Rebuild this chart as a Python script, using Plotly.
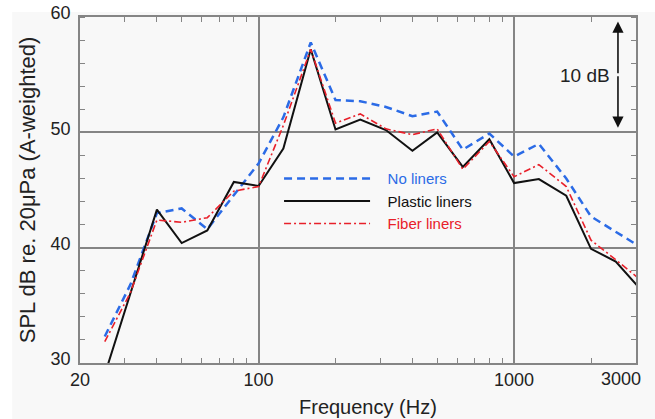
import math
import plotly.graph_objects as go

# 1/3-octave band centre frequencies (Hz)
freqs = [25, 31.5, 40, 50, 63, 80, 100, 125, 160, 200, 250, 315, 400, 500,
         630, 800, 1000, 1250, 1600, 2000, 2500, 3150]

no_liners = [32.3, 36.8, 43.0, 43.4, 41.6, 44.6, 47.3, 51.3, 57.8, 52.8, 52.7,
             52.2, 51.4, 51.8, 48.5, 49.9, 47.9, 49.0, 46.0, 42.7, 41.4, 40.0]
plastic_liners = [29.0, 36.1, 43.3, 40.4, 41.5, 45.7, 45.35, 48.6, 57.2, 50.25,
                  51.1, 50.2, 48.4, 50.0, 47.0, 49.4, 45.6, 45.95, 44.5, 39.9,
                  38.8, 36.3]
fiber_liners = [31.85, 36.1, 42.4, 42.2, 42.6, 44.9, 45.3, 50.6, 57.2, 50.8,
                51.6, 50.3, 49.8, 50.3, 46.8, 49.2, 46.15, 47.2, 45.3, 40.65,
                38.95, 37.15]

x_ticks = [20, 100, 1000]
x_minor = [30, 40, 50, 60, 70, 80, 90, 200, 300, 400, 500, 600, 700, 800, 900, 2000]
y_ticks = [30, 40, 50, 60]

GRID = "#858585"
BG = "#f8f8f8"
FONT = "Liberation Sans, Arial, sans-serif"
SP = "\u00a0\u00a0\u00a0"

fig = go.Figure()
fig.add_trace(go.Scatter(
    x=freqs, y=no_liners, mode="lines",
    name=SP + "<span style='color:#2b6be6'>No liners</span>",
    line=dict(color="#2b6be6", width=2.5, dash="8px,5px")))
fig.add_trace(go.Scatter(
    x=freqs, y=plastic_liners, mode="lines",
    name=SP + "<span style='color:#111111'>Plastic liners</span>",
    line=dict(color="#111111", width=2)))
fig.add_trace(go.Scatter(
    x=freqs, y=fiber_liners, mode="lines",
    name=SP + "<span style='color:#e8202a'>Fiber liners</span>",
    line=dict(color="#e8202a", width=1.6, dash="7px,3px,2px,3px")))

fig.update_layout(
    width=655, height=419,
    margin=dict(l=80, r=19, t=17, b=56, autoexpand=False),
    paper_bgcolor="#ffffff", plot_bgcolor=BG,
    font=dict(family=FONT, color="#222222"),
    showlegend=True,
    legend=dict(x=0.358, y=0.58, xanchor="left", yanchor="top",
                bgcolor="rgba(0,0,0,0)", itemwidth=86,
                font=dict(size=15, family=FONT), tracegroupgap=0),
)

# light-grey picture background with thin white border at top/left
fig.add_shape(type="rect", xref="paper", yref="paper",
              x0=-0.122, x1=1.05, y0=-0.2, y1=1.0145,
              fillcolor=BG, line=dict(width=0), layer="below")

fig.update_xaxes(
    type="log", range=[math.log10(20), math.log10(3000)],
    tickvals=x_ticks, ticktext=[str(v) for v in x_ticks],
    tickfont=dict(size=18), ticks="", automargin=False,
    showgrid=True, gridcolor=GRID, gridwidth=1.5,
    showline=True, linecolor=GRID, linewidth=1.5, mirror="ticks",
    minor=dict(tickvals=x_minor, ticks="inside", ticklen=5,
               tickcolor=GRID, tickwidth=1.2, showgrid=False),
    zeroline=False,
)
fig.update_yaxes(
    range=[30, 60], tickvals=y_ticks, automargin=False,
    tickfont=dict(size=18), ticks="", ticklabelstandoff=4,
    ticklabelshift=-4,
    showgrid=True, gridcolor=GRID, gridwidth=1.5,
    showline=True, linecolor=GRID, linewidth=1.5, mirror="ticks",
    minor=dict(dtick=2, ticks="inside", ticklen=5,
               tickcolor=GRID, tickwidth=1.2, showgrid=False),
    zeroline=False,
    title=dict(text="SPL dB re. 20\u03bcPa (A-weighted)", font=dict(size=22),
               standoff=9),
)

# x-axis title (placed as in the original)
fig.add_annotation(text="Frequency (Hz)", xref="paper", yref="paper",
                   x=0.518, y=0, xanchor="center", yanchor="middle",
                   yshift=-44, showarrow=False,
                   font=dict(size=20, color="#222222"))

# "3000" tick label (drawn slightly inside the right edge as in the original)
fig.add_annotation(text="3000", xref="paper", yref="paper", x=1.0, y=0,
                   xanchor="right", yanchor="top", xshift=7, yshift=-4,
                   showarrow=False, font=dict(size=18, color="#222222"))

# 10 dB scale arrow
arrow_x = math.log10(2550)
for tip in (59.6, 50.4):
    fig.add_annotation(x=arrow_x, y=tip, ax=arrow_x, ay=55,
                       xref="x", yref="y", axref="x", ayref="y",
                       text="", showarrow=True, arrowhead=2, arrowsize=1.4,
                       arrowwidth=1.6, arrowcolor="#111111")
fig.add_annotation(text="10 dB", x=arrow_x, y=55, xref="x", yref="y",
                   xanchor="right", xshift=-6, yshift=-1, showarrow=False,
                   font=dict(size=19, color="#222222"))

fig.write_html("out.html")
